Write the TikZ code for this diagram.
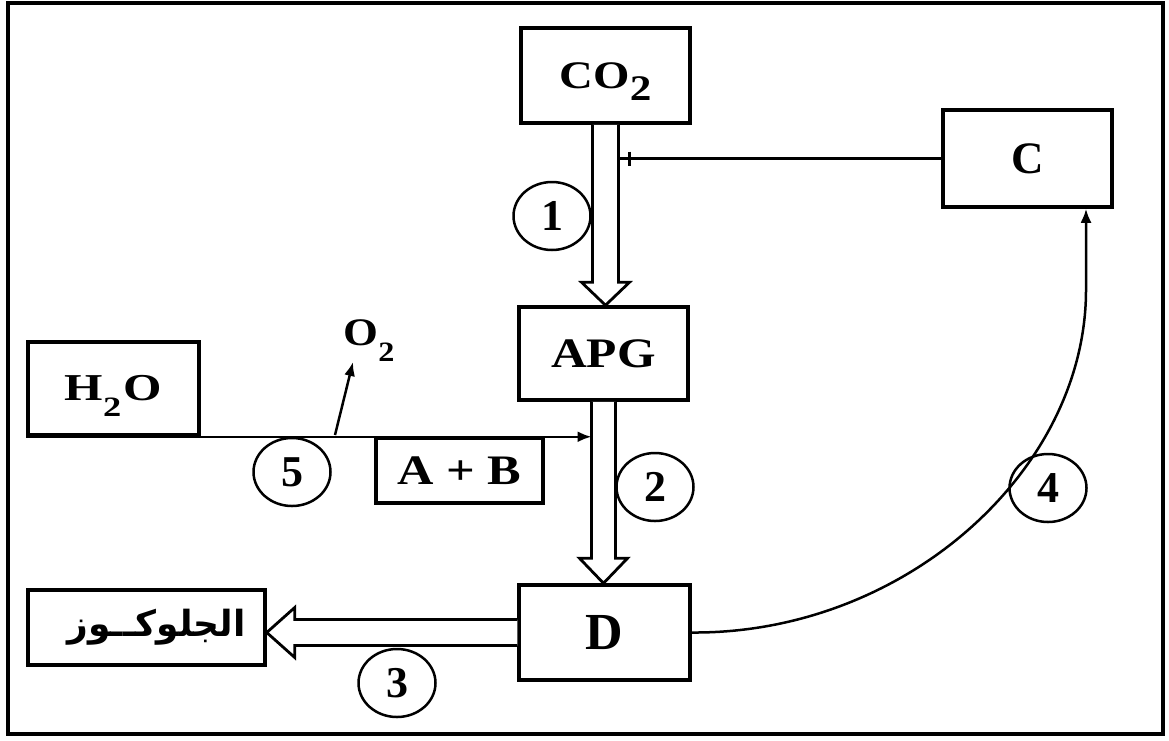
\documentclass[tikz,border=0pt]{standalone}
\usepackage{fontspec}
\setmainfont{Liberation Serif}
\newfontfamily\arabicfont[Script=Arabic]{DejaVu Sans}
\TeXXeTstate=1
\usetikzlibrary{arrows.meta,shapes.geometric,calc}
\newcommand\widetxt[2][1.18]{\scalebox{#1}[1]{#2}}
\tikzset{
  box/.style={draw, line width=3.5pt, inner sep=0pt, font=\bfseries},
  num/.style={draw, ellipse, line width=2.5pt, minimum width=77pt, minimum height=68pt, inner sep=0pt, font=\bfseries\fontsize{44}{44}\selectfont},
  hollow/.style={draw, line width=2.8pt, line join=miter, fill=white},
  conn/.style={draw, line width=2.5pt},
  tipa/.style={-{Latex[length=14pt,width=11pt]}}
}
\begin{document}
\begin{tikzpicture}[x=1pt,y=-1pt]
\useasboundingbox (0,0) rectangle (1169,740);
\fill[white] (0,0) rectangle (1169,740);
\draw[line width=3.5pt] (8,3) rectangle (1163,734);

% boxes
\node[box, minimum width=169pt, minimum height=95pt] (CO2) at (605.5,75.5)
  {\widetxt[1.2]{\fontsize{39}{39}\selectfont CO\raisebox{-12pt}[0pt][0pt]{\fontsize{36}{36}\selectfont 2}}};
\node[box, minimum width=169pt, minimum height=97pt] (C) at (1027.5,158.5)
  {\fontsize{45}{45}\selectfont C};
\node[box, minimum width=169pt, minimum height=93pt] (APG) at (603.5,353.5)
  {\widetxt{\fontsize{42}{42}\selectfont APG}};
\node[box, minimum width=171pt, minimum height=93pt] (H2O) at (113.5,388.5)
  {\widetxt[1.3]{\fontsize{38}{38}\selectfont H\raisebox{-16pt}[0pt][0pt]{\fontsize{28}{28}\selectfont 2}\kern2pt O}};
\node[box, minimum width=167pt, minimum height=65pt] (AB) at (459.5,470.5)
  {\widetxt[1.2]{\fontsize{42}{42}\selectfont A + B}};
\node[box, minimum width=171pt, minimum height=95pt] (D) at (604.5,632.5)
  {\fontsize{52}{52}\selectfont D};
\node[box, minimum width=237pt, minimum height=75pt] (G) at (146.5,627.5)
  {\hspace*{20pt}\arabicfont\bfseries\fontsize{36}{36}\selectfont\beginR الجلوكــوز\endR};

% hollow arrow 1
\coordinate (a1t) at (CO2.south |- APG.north);
\draw[hollow] ($(CO2.south)+(-13,0)$) -- ($(a1t)+(-13,-23)$) -- ($(a1t)+(-24,-23)$) -- (a1t)
  -- ($(a1t)+(24,-23)$) -- ($(a1t)+(13,-23)$) -- ($(CO2.south)+(13,0)$);
% hollow arrow 2
\coordinate (a2t) at (APG.south |- D.north);
\draw[hollow] ($(APG.south)+(-12,0)$) -- ($(a2t)+(-12,-25)$) -- ($(a2t)+(-24,-25)$) -- (a2t)
  -- ($(a2t)+(24,-25)$) -- ($(a2t)+(12,-25)$) -- ($(APG.south)+(12,0)$);
% hollow arrow 3
\coordinate (a3t) at (D.west -| G.east);
\draw[hollow] ($(D.west)+(0,-13)$) -- ($(a3t)+(28,-13)$) -- ($(a3t)+(28,-25)$) -- (a3t)
  -- ($(a3t)+(28,25)$) -- ($(a3t)+(28,13)$) -- ($(D.west)+(0,13)$);

% line from C to arrow 1
\coordinate (s1r) at ($(CO2.south)+(13,0)$);
\coordinate (s1j) at (C.west -| s1r);
\draw[conn] (C.west) -- (s1j);
\draw[line width=3.5pt] ($(s1j)+(11,-7)$) -- ++(0,14);

% H2O line
\coordinate (s2l) at ($(APG.south)+(-12,0)$);
\draw[conn,tipa] (H2O.south west) -- (H2O.south west -| s2l);

% O2
\node[font=\bfseries\fontsize{39}{39}\selectfont] (O2) at (369,333)
  {\widetxt[1.15]{O\raisebox{-16pt}[0pt][0pt]{\fontsize{28}{28}\selectfont 2}}};
\coordinate (o2base) at (335,435);
\coordinate (o2tip) at (353,362);
\draw[conn,tipa] (o2base) -- (o2tip);

% curve 4
\coordinate (c4) at (1086,290);
\draw[conn,tipa] (D.east) .. controls (905,634) and (1086,470) .. (c4) -- (c4 |- C.south);

% numbers
\node[num] (n1) at (552,216) {1};
\node[num] (n2) at (655,487) {2};
\node[num] (n3) at (397,683) {3};
\node[num] (n4) at (1048,488) {4};
\node[num] (n5) at (292,472) {5};
\end{tikzpicture}
\end{document}
